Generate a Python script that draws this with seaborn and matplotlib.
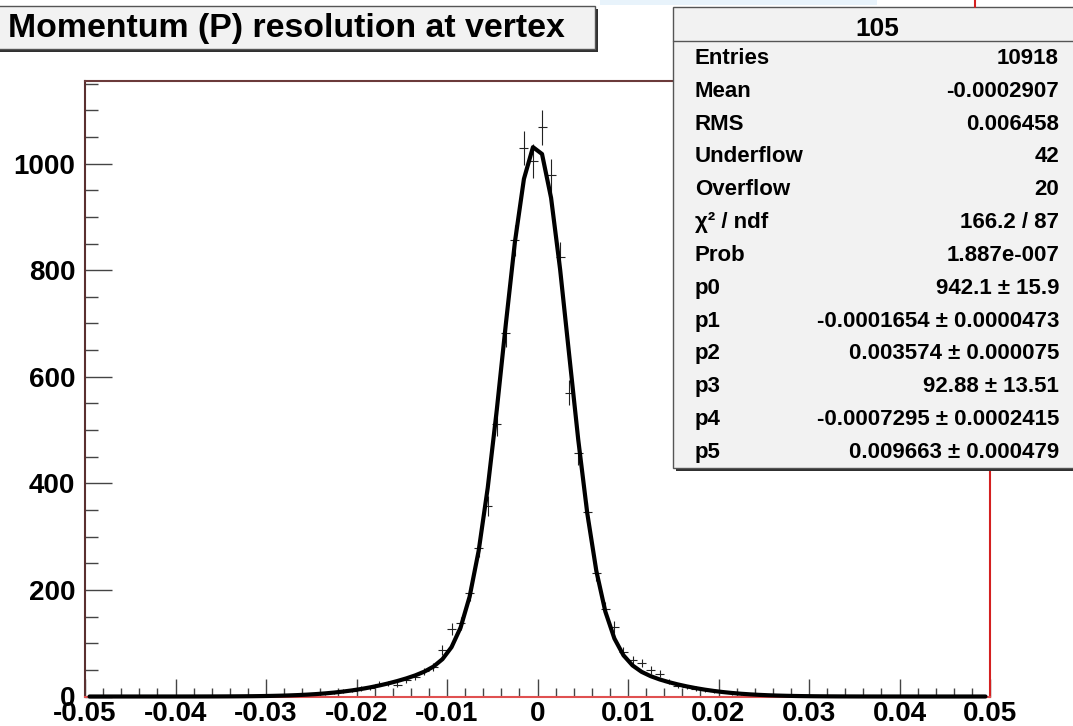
import numpy as np
import pandas as pd
import matplotlib
matplotlib.use("Agg")
import matplotlib.pyplot as plt
import seaborn as sns
from matplotlib.patches import Rectangle
from matplotlib.ticker import MultipleLocator

# ---------------- data ----------------
title = "Momentum (P) resolution at vertex"
hist_name = "105"
bin_low, bin_high, n_bins = -0.05, 0.05, 100

# histogram bin contents (left to right, bin width 0.001)
counts = [
    0, 1, 0, 0, 1, 0, 0, 1, 0, 0,
    1, 0, 0, 1, 0, 0, 1, 0, 1, 2,
    1, 2, 3, 2, 4, 5, 6, 8, 10, 11,
    15, 16, 24, 25, 22, 31, 37, 47, 55, 88,
    126, 137, 194, 278, 357, 511, 682, 856, 1030, 1005,
    1068, 978, 825, 570, 456, 347, 231, 165, 131, 84,
    68, 63, 50, 43, 28, 20, 18, 15, 12, 10,
    9, 6, 5, 4, 3, 2, 2, 1, 2, 1,
    0, 1, 0, 0, 1, 0, 0, 1, 0, 0,
    0, 1, 0, 0, 0, 1, 0, 0, 0, 0,
]

# fitted curve read at each bin centre
fit_values = [
    0.0, 0.0, 0.0, 0.0, 0.0, 0.0, 0.01, 0.01, 0.01, 0.02,
    0.03, 0.05, 0.07, 0.10, 0.14, 0.21, 0.30, 0.42, 0.58, 0.81,
    1.10, 1.49, 2.00, 2.65, 3.47, 4.51, 5.79, 7.34, 9.22, 11.45,
    14.08, 17.12, 20.60, 24.52, 28.97, 33.95, 39.68, 46.68, 56.07, 70.11,
    92.61, 129.3, 187.4, 273.6, 391.5, 537.6, 698.7, 852.3, 971.2, 1030.9,
    1018.0, 935.7, 801.3, 641.3, 482.2, 343.7, 235.7, 159.1, 108.7, 77.3,
    58.3, 46.3, 38.2, 32.0, 27.0, 22.7, 18.95, 15.67, 12.82, 10.38,
    8.32, 6.59, 5.16, 4.00, 3.07, 2.33, 1.75, 1.30, 0.96, 0.70,
    0.50, 0.36, 0.25, 0.17, 0.12, 0.08, 0.05, 0.03, 0.02, 0.01,
    0.01, 0.0, 0.0, 0.0, 0.0, 0.0, 0.0, 0.0, 0.0, 0.0,
]

stats_labels = ["Entries", "Mean", "RMS", "Underflow", "Overflow", "χ² / ndf",
                "Prob", "p0", "p1", "p2", "p3", "p4", "p5"]
stats_values = ["10918", "-0.0002907", "0.006458", "42", "20", "166.2 / 87",
                "1.887e-007", "942.1 ± 15.9", "-0.0001654 ± 0.0000473",
                "0.003574 ± 0.000075", "92.88 ± 13.51",
                "-0.0007295 ± 0.0002415", "0.009663 ± 0.000479"]

x_ticks = [-0.05, -0.04, -0.03, -0.02, -0.01, 0.0, 0.01, 0.02, 0.03, 0.04, 0.05]
x_tick_labels = ["-0.05", "-0.04", "-0.03", "-0.02", "-0.01", "0",
                 "0.01", "0.02", "0.03", "0.04", "0.05"]
y_ticks = [0, 200, 400, 600, 800, 1000]
y_tick_labels = ["0", "200", "400", "600", "800", "1000"]
y_max = 1155

# ---------------- style ----------------
sns.set_style("white")
plt.rcParams['font.family'] = ['Liberation Sans', 'DejaVu Sans']
plt.rcParams['font.weight'] = 'bold'
plt.rcParams['text.color'] = 'black'

W, H = 1073, 726
fig = plt.figure(figsize=(W / 100, H / 100), dpi=100)
fig.patch.set_facecolor('white')

ax_l, ax_r, ax_t, ax_b = 85, 990, 81, 696.5
ax = fig.add_axes([ax_l / W, 1 - ax_b / H, (ax_r - ax_l) / W, (ax_b - ax_t) / H])
ax.set_facecolor('white')

edges = np.linspace(bin_low, bin_high, n_bins + 1)
centers = 0.5 * (edges[:-1] + edges[1:])
half_width = 0.5 * (edges[1] - edges[0])
df = pd.DataFrame({'x': centers, 'count': counts, 'fit': fit_values})
df['err'] = np.sqrt(df['count'])

ax.errorbar(df['x'], df['count'], yerr=df['err'], xerr=half_width, fmt='none',
            ecolor='#222222', elinewidth=0.8, capsize=0, zorder=2)
sns.lineplot(data=df, x='x', y='fit', color='black', linewidth=3.0, ax=ax,
             zorder=3, clip_on=False, legend=False)

ax.set_xlim(bin_low, bin_high)
ax.set_ylim(0, y_max)
ax.set_xlabel('')
ax.set_ylabel('')
ax.set_xticks(x_ticks, labels=x_tick_labels)
ax.set_yticks(y_ticks, labels=y_tick_labels)
ax.xaxis.set_minor_locator(MultipleLocator(0.002))
ax.yaxis.set_minor_locator(MultipleLocator(50))
ax.tick_params(bottom=True, left=True, top=False, right=False, which='both')
ax.tick_params(axis='x', which='major', direction='in', length=13, width=1,
               color='#444444', labelcolor='black', labelsize=20, pad=3)
ax.tick_params(axis='x', which='minor', direction='in', length=6.5, width=1,
               color='#444444')
ax.tick_params(axis='y', which='major', direction='in', length=19.4, width=1,
               color='#444444', labelcolor='black', labelsize=20, pad=7)
ax.tick_params(axis='y', which='minor', direction='in', length=9.4, width=1,
               color='#444444')
for lab in ax.get_xticklabels() + ax.get_yticklabels():
    lab.set_fontweight('bold')

ax.spines['left'].set_color('#5a3030')
ax.spines['top'].set_color('#6b3a3a')
ax.spines['right'].set_color('#d42020')
ax.spines['bottom'].set_color('#e05050')
for s in ax.spines.values():
    s.set_linewidth(1.5)
    s.set_visible(True)

# ---------------- overlay (title box, stats box) ----------------
ov = fig.add_axes([0, 0, 1, 1], zorder=10)
ov.set_xlim(0, W)
ov.set_ylim(H, 0)
ov.axis('off')
ov.patch.set_alpha(0)

ov.add_patch(Rectangle((600, 0), 277, 5, fc='#e8f3fb', ec='none'))
ov.plot([975, 975], [0, 7], color='#d42020', lw=1.5)

# title box
ov.add_patch(Rectangle((-2, 9), 600, 43, fc='#303030', ec='none'))
ov.add_patch(Rectangle((-5, 6), 600, 43, fc='#f2f2f2', ec='#555555', lw=1))
ov.text(8, 37.5, title, fontsize=24.4, fontweight='bold', ha='left', va='baseline',
        color='black')

# stats box
ov.add_patch(Rectangle((676, 10), 420, 461, fc='#303030', ec='none'))
ov.add_patch(Rectangle((673, 7), 420, 461, fc='#f2f2f2', ec='#555555', lw=1))
ov.plot([673, 1093], [41, 41], color='#555555', lw=1)
ov.text(877, 36, hist_name, fontsize=19, fontweight='bold', ha='center',
        va='baseline', color='black')
for i, (lab, val) in enumerate(zip(stats_labels, stats_values)):
    y = 64 + i * 32.83
    ov.text(695, y, lab, fontsize=16, fontweight='bold', ha='left', va='baseline',
            color='black')
    ov.text(1059, y, val, fontsize=16, fontweight='bold', ha='right', va='baseline',
            color='black')

fig.savefig('out.png', dpi=100)
